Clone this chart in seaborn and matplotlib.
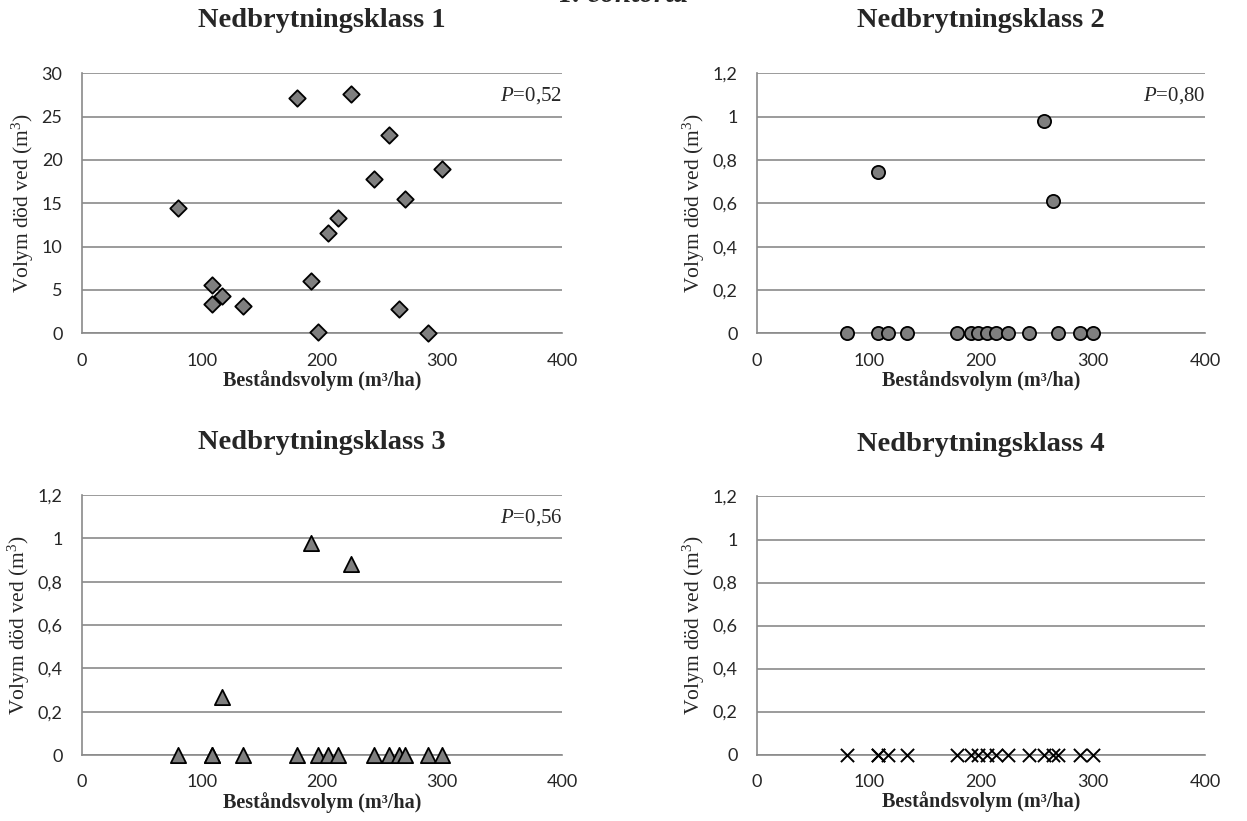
import matplotlib
matplotlib.use("Agg")
import matplotlib.pyplot as plt
import seaborn as sns
import pandas as pd

# ---- data ----
bestandsvolym = [80, 108, 108, 117, 134, 179, 191, 197, 205, 213, 224, 243, 256, 264, 269, 288, 300]
klass1 = [14.4, 5.6, 3.4, 4.3, 3.1, 27.1, 6.0, 0.1, 11.6, 13.3, 27.6, 17.8, 22.9, 2.8, 15.5, 0.0, 19.0]
klass2 = [0, 0.745, 0, 0, 0, 0, 0, 0, 0, 0, 0, 0, 0.98, 0.61, 0, 0, 0]
klass3 = [0, 0, 0, 0.27, 0, 0, 0.98, 0, 0, 0, 0.88, 0, 0, 0, 0, 0, 0]
klass4 = [0] * 17

titles = ["Nedbrytningsklass 1", "Nedbrytningsklass 2", "Nedbrytningsklass 3", "Nedbrytningsklass 4"]
p_labels = ["0,52", "0,80", "0,56", None]
x_ticks = [0, 100, 200, 300, 400]
y_ticks_1 = [0, 5, 10, 15, 20, 25, 30]
y_ticks_small = [0, 0.2, 0.4, 0.6, 0.8, 1.0, 1.2]
y_ticklabels_small = ["0", "0,2", "0,4", "0,6", "0,8", "1", "1,2"]

sns.set_style("white")
plt.rcParams["font.family"] = ["Liberation Serif", "DejaVu Sans"]
plt.rcParams["mathtext.fontset"] = "custom"
plt.rcParams["mathtext.it"] = "Liberation Serif:italic"
plt.rcParams["mathtext.rm"] = "Liberation Serif"

fig = plt.figure(figsize=(12.47, 8.21), dpi=100)
W, H = 1247, 821

def ax_at(left, right, top, bottom):
    return fig.add_axes([left / W, (H - bottom) / H, (right - left) / W, (bottom - top) / H])

axes = [
    ax_at(82, 562, 73.3, 333.3),
    ax_at(757, 1205, 73.3, 333.3),
    ax_at(82, 562, 495, 755),
    ax_at(757, 1205, 496.5, 754.5),
]

series = [klass1, klass2, klass3, klass4]
markers = ["D", "o", "^", "x"]
sizes = [70, 90, 120, 90]
grid_col = "#8a8a8a"
tick_font = "Lato"
tick_size = 13

for i, ax in enumerate(axes):
    df = pd.DataFrame({"x": bestandsvolym, "y": series[i]})
    if markers[i] == "x":
        sns.scatterplot(data=df, x="x", y="y", ax=ax, marker="x", s=sizes[i],
                        color="black", linewidth=1.4, zorder=5, clip_on=False)
    else:
        sns.scatterplot(data=df, x="x", y="y", ax=ax, marker=markers[i], s=sizes[i],
                        color="#7f7f7f", edgecolor="black", linewidth=1.3,
                        zorder=5, clip_on=False)
    ax.set_xlim(0, 400)
    ax.set_xticks(x_ticks)
    ax.set_xticklabels([str(t) for t in x_ticks], fontfamily=tick_font, fontsize=tick_size)
    if i == 0:
        ax.set_ylim(0, 30)
        ax.set_yticks(y_ticks_1)
        ax.set_yticklabels([str(t) for t in y_ticks_1], fontfamily=tick_font, fontsize=tick_size)
    else:
        ax.set_ylim(0, 1.2)
        ax.set_yticks(y_ticks_small)
        ax.set_yticklabels(y_ticklabels_small, fontfamily=tick_font, fontsize=tick_size)
    ax.yaxis.grid(True, color=grid_col, linewidth=1.2)
    ax.xaxis.grid(False)
    ax.set_axisbelow(True)
    for s in ["top", "right"]:
        ax.spines[s].set_visible(False)
    for s in ["left", "bottom"]:
        ax.spines[s].set_color(grid_col)
        ax.spines[s].set_linewidth(1.2)
    ax.tick_params(axis="both", length=0)
    ax.tick_params(axis="y", pad=14)
    ax.tick_params(axis="x", pad=14)
    ax.set_xlabel("Beståndsvolym (m³/ha)", fontsize=14.5, fontweight="bold", labelpad=1)
    ax.set_ylabel("Volym död ved (m$^3$)", fontsize=15.5, labelpad=4)
    ax.set_title(titles[i], fontsize=20.5, fontweight="bold", pad=33)
    if p_labels[i]:
        ax.text(1.0, 0.915, "$P$=" + p_labels[i], transform=ax.transAxes,
                ha="right", va="center", fontsize=15)

fig.text(0.5, 1.0068, "P. contorta", ha="center", va="center", fontsize=21,
         fontweight="bold", style="italic")

fig.savefig("out.png", dpi=100)
